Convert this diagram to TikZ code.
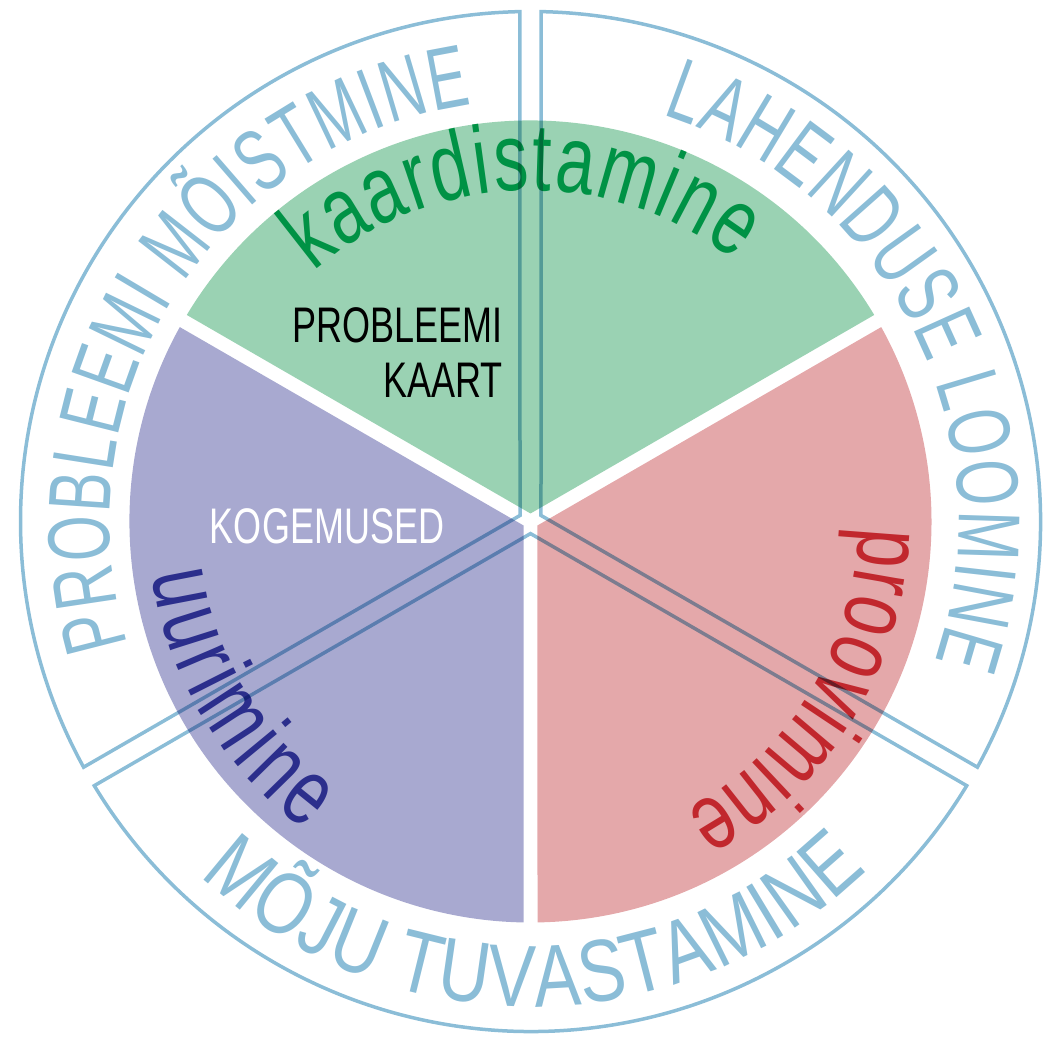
\documentclass[tikz,border=0pt]{standalone}
\usepackage{fontspec}
\setmainfont{Liberation Sans}
\newfontfamily\ringfont[FakeStretch=0.67]{Liberation Sans}
\newfontfamily\bottomfont[FakeStretch=0.8]{Liberation Sans}
\newfontfamily\wordfont[FakeStretch=0.72]{Liberation Sans}
\newfontfamily\labelfont[FakeStretch=0.72]{Liberation Sans}
\usetikzlibrary{calc,decorations.text}

\definecolor{ringblue}{RGB}{139,189,215}
\definecolor{mapgreen}{RGB}{154,210,179}
\definecolor{testred}{RGB}{228,168,170}
\definecolor{studyviolet}{RGB}{168,169,208}
\definecolor{mapgreentext}{RGB}{0,146,69}
\definecolor{studyblue}{RGB}{43,46,140}
\definecolor{testredtext}{RGB}{193,39,45}

\tikzset{
  ring/.style={draw=ringblue, line width=3.5pt, line join=miter},
  ringtext/.style 2 args={decorate, decoration={text along path, text align=fit to path, text color=ringblue,
      text={|#1\fontsize{88}{88}\selectfont|#2}}},
  wordtext/.style 2 args={decorate, decoration={text along path, text align=fit to path, text color=#1,
      text={|\wordfont\fontsize{96}{96}\selectfont|#2}}},
  labeltext/.style={inner sep=0pt, font=\labelfont\fontsize{50}{55}\selectfont}
}

\begin{document}
\begin{tikzpicture}[x=1pt, y=1pt]
    \useasboundingbox (0,0) rectangle (1051,1038);
    \coordinate (c) at (530.5,516.5);

    % Pie
    \coordinate (g) at ($(c)+(90:8)$);
    \coordinate (r) at ($(c)+(-30:8)$);
    \coordinate (p) at ($(c)+(210:8)$);
    \fill[mapgreen] (g) -- ($(c)+(31:401)$) arc[start angle=31, end angle=149, radius=401] -- cycle;
    \fill[testred] (r) -- ($(c)+(-89:401)$) arc[start angle=-89, end angle=29, radius=401] -- cycle;
    \fill[studyviolet] (p) -- ($(c)+(151:401)$) arc[start angle=151, end angle=269, radius=401] -- cycle;

    % Words in the pie
    \path[wordtext={mapgreentext}{kaardistamine}] ($(c)+(131:331)$) arc[start angle=131, end angle=52, radius=331];
    \path[wordtext={studyblue}{uurimine}] ($(c)+(188:382)$) arc[start angle=188, end angle=234, radius=382];
    \path[wordtext={testredtext}{proovimine}] ($(c)+(-1:328)$) arc[start angle=-1, end angle=-62, radius=328];

    \node[labeltext, anchor=east, align=right] (kaart) at (503,685) {PROBLEEMI\\KAART};
    \node[labeltext, text=white] (kogemused) at (327,512) {KOGEMUSED};

    % Ring
    \coordinate (vl) at ($(c)+(150:12.1)$);
    \coordinate (vr) at ($(c)+(30:12.1)$);
    \coordinate (vb) at ($(c)+(270:12.1)$);
    \begin{scope}[blend mode=multiply]
        \draw[ring] (vl) -- ($(c)+(91.2:510)$) arc[start angle=91.2, end angle=208.8, radius=510] -- cycle;
        \draw[ring] (vr) -- ($(c)+(-28.8:510)$) arc[start angle=-28.8, end angle=88.8, radius=510] -- cycle;
        \draw[ring] (vb) -- ($(c)+(211.2:510)$) arc[start angle=211.2, end angle=328.8, radius=510] -- cycle;
    \end{scope}

    \path[ringtext={\ringfont}{PROBLEEMI MÕISTMINE}] ($(c)+(197:421)$) arc[start angle=197, end angle=98, radius=421];
    \path[ringtext={\ringfont}{LAHENDUSE LOOMINE}] ($(c)+(72:428)$) arc[start angle=72, end angle=-19, radius=428];
    \path[ringtext={\bottomfont}{MÕJU TUVASTAMINE}] ($(c)+(227:485)$) arc[start angle=227, end angle=314, radius=485];
\end{tikzpicture}
\end{document}
